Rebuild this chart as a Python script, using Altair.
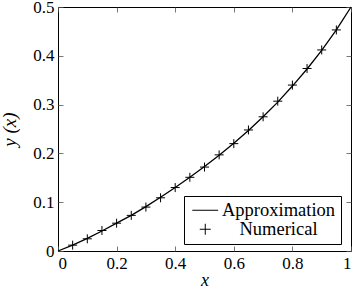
import altair as alt
import pandas as pd

# ---- data ----
x_line = [0, 0.05, 0.1, 0.15, 0.2, 0.25, 0.3, 0.35, 0.4, 0.45, 0.5,
          0.55, 0.6, 0.65, 0.7, 0.75, 0.8, 0.85, 0.9, 0.95, 1.0]
y_line = [0, 0.012, 0.026, 0.041, 0.057, 0.073, 0.091, 0.110, 0.130, 0.151, 0.173,
          0.196, 0.221, 0.247, 0.275, 0.305, 0.338, 0.373, 0.411, 0.453, 0.5]

x_num = [0.05, 0.1, 0.15, 0.2, 0.25, 0.3, 0.35, 0.4, 0.45, 0.5,
         0.55, 0.6, 0.65, 0.7, 0.75, 0.8, 0.85, 0.9, 0.95]
y_num = [0.012, 0.025, 0.042, 0.057, 0.073, 0.090, 0.109, 0.130, 0.151, 0.172,
         0.197, 0.220, 0.248, 0.275, 0.307, 0.340, 0.374, 0.412, 0.453]

series_names = ["Approximation", "Numerical"]
x_ticks = [0, 0.2, 0.4, 0.6, 0.8, 1]
y_ticks = [0, 0.1, 0.2, 0.3, 0.4, 0.5]

line_df = pd.DataFrame({"x": x_line, "y": y_line, "series": series_names[0]})
num_df = pd.DataFrame({"x": x_num, "y": y_num, "series": series_names[1]})

FONT = "Liberation Serif"
FS = 17
TICK = "#555555"
LBL = "format(datum.value, '~g')"

xscale = alt.Scale(domain=[0, 1], nice=False, zero=False)
yscale = alt.Scale(domain=[0, 0.5], nice=False, zero=False)

line = alt.Chart(line_df).mark_line(color="black", strokeWidth=1.3).encode(
    x=alt.X("x:Q", scale=xscale,
            axis=alt.Axis(orient="bottom", values=x_ticks, title="x", offset=-5,
                          tickSize=5, labelPadding=4, labelExpr=LBL, titlePadding=0,
                          titleFontSize=18)),
    y=alt.Y("y:Q", scale=yscale,
            axis=alt.Axis(orient="left", values=y_ticks, title="y (x)", offset=-5,
                          tickSize=5, labelPadding=4, labelExpr=LBL, titlePadding=13,
                          titleFontSize=19)),
)

points = alt.Chart(num_df).mark_point(filled=False, size=81, strokeWidth=1,
                                      color="black", opacity=1).encode(
    x=alt.X("x:Q", scale=xscale,
            axis=alt.Axis(orient="top", values=x_ticks, title="", offset=-5,
                          tickSize=5, labels=False)),
    y=alt.Y("y:Q", scale=yscale,
            axis=alt.Axis(orient="right", values=y_ticks, title="", offset=-5,
                          tickSize=5, labels=False)),
    shape=alt.Shape("series:N",
                    scale=alt.Scale(domain=series_names,
                                    range=["M-2.35,0H2.35", "M-1,0H1M0,-1V1"]),
                    legend=alt.Legend(orient="none", legendX=126, legendY=189,
                                      title=None, strokeColor="black", fillColor="white",
                                      padding=5, rowPadding=0, symbolSize=121,
                                      symbolOffset=7,
                                      symbolStrokeColor="black", symbolStrokeWidth=1,
                                      symbolFillColor="transparent",
                                      labelFontSize=18.5,
                                      labelAlign="center", labelOffset=64)),
)

chart = alt.layer(line, points).resolve_axis(
    x="independent", y="independent"
).properties(
    width=293, height=244,
    padding={"left": 58, "top": 7, "right": 8, "bottom": 39},
    autosize="none",
    background="white",
).configure(
    font=FONT
).configure_axis(
    labelFont=FONT, labelFontSize=FS, labelColor="black",
    titleFont=FONT, titleFontSize=FS, titleFontStyle="italic",
    titleFontWeight="normal", titleColor="black",
    tickColor=TICK, tickWidth=0.8, domain=False, grid=False,
).configure_legend(
    labelFont=FONT, labelColor="black",
).configure_view(stroke="black", strokeWidth=1)

chart.save("out.html", embed_options={"renderer": "svg", "actions": False})
